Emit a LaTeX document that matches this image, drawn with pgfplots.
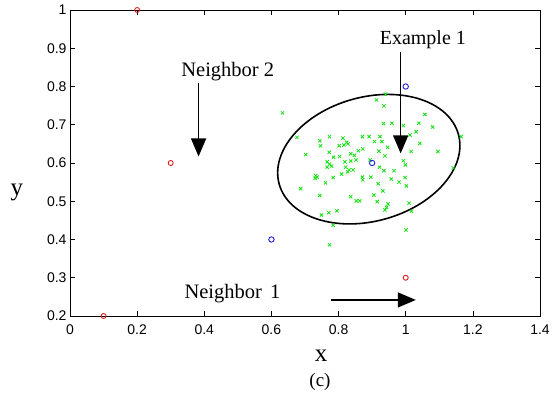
\documentclass[border=0pt]{standalone}
\usepackage{pgfplots}
\pgfplotsset{compat=1.18}
\usepackage{fontspec}
\setmainfont{Liberation Serif}
\setsansfont{Liberation Sans}
\usetikzlibrary{arrows.meta}
\definecolor{mgreen}{RGB}{20,225,20}
\definecolor{mred}{RGB}{220,30,30}
\definecolor{mblue}{RGB}{30,30,220}
\begin{document}
\begin{tikzpicture}
\begin{axis}[
  at={(0pt,0pt)}, anchor=south west,
  scale only axis, width=470pt, height=306pt,
  xmin=0, xmax=1.4, ymin=0.2, ymax=1,
  xtick={0,0.2,...,1.4}, ytick={0.2,0.3,...,1.0},
  xticklabels={0,0.2,0.4,0.6,0.8,1,1.2,1.4},
  yticklabels={0.2,0.3,0.4,0.5,0.6,0.7,0.8,0.9,1},
  tick align=inside, tick pos=both, major tick length=5pt,
  tick style={black, line width=0.6pt},
  axis line style={line width=0.9pt},
  tick label style={font=\fontsize{14}{16}\sffamily},
  xticklabel style={yshift=-5pt},
  /pgf/number format/assume math mode=true,
  clip=false,
]
\addplot[only marks, mark=x, mark size=2.3pt, mgreen, line width=0.8pt] coordinates {
(0.633,0.731) (0.940,0.780) (0.913,0.765) (0.935,0.749) (1.057,0.727)
(0.934,0.703) (0.959,0.704) (0.993,0.698) (1.039,0.704) (1.080,0.694)
(1.031,0.682) (1.013,0.673) (1.165,0.669) (0.676,0.667) (0.773,0.669)
(0.744,0.658) (0.813,0.665) (0.871,0.669) (0.891,0.669) (0.923,0.669)
(0.824,0.654) (0.828,0.650) (0.816,0.647) (0.746,0.645) (0.802,0.645)
(0.907,0.656) (0.929,0.656) (0.946,0.641) (1.042,0.651) (0.872,0.637)
(0.859,0.632) (0.920,0.631) (1.016,0.630) (1.096,0.630) (0.702,0.622)
(0.772,0.628) (0.785,0.615) (0.803,0.617) (0.836,0.624) (0.847,0.620)
(0.938,0.619) (0.766,0.603) (0.773,0.597) (0.779,0.592) (0.766,0.589)
(0.819,0.603) (0.836,0.605) (0.852,0.608) (0.821,0.589) (0.831,0.582)
(0.843,0.582) (0.827,0.577) (0.894,0.608) (0.922,0.589) (0.935,0.580)
(0.965,0.580) (0.993,0.606) (0.999,0.595) (0.732,0.567) (0.736,0.563)
(0.730,0.560) (0.784,0.562) (0.809,0.571) (0.871,0.563) (0.872,0.556)
(0.896,0.563) (0.957,0.558) (0.980,0.550) (0.998,0.562) (1.002,0.540)
(1.142,0.587) (0.761,0.548) (0.687,0.533) (0.918,0.546) (0.932,0.527)
(0.744,0.515) (0.836,0.512) (0.853,0.501) (0.863,0.501) (0.905,0.516)
(0.915,0.499) (0.947,0.493) (0.943,0.484) (0.938,0.477) (1.010,0.495)
(1.017,0.474) (0.795,0.475) (0.771,0.470) (0.749,0.464) (0.784,0.437)
(1.001,0.425) (0.773,0.386)
};
\addplot[only marks, mark=o, mark size=2.5pt, mred, line width=0.9pt] coordinates {
(0.2,1.0) (0.3,0.6) (0.1,0.2) (1.0,0.3)
};
\addplot[only marks, mark=o, mark size=2.7pt, mblue, line width=0.9pt] coordinates {
(1.0,0.8) (0.9,0.6) (0.6,0.4)
};
\draw[line width=1.6pt, rotate around={15.6:(axis cs:0.89,0.61)}]
  (axis cs:0.89,0.61) ellipse [x radius=93pt, y radius=62pt];
\draw[line width=1.4pt, -{Triangle[width=15pt,length=18pt]}]
  (axis cs:0.985,0.89) -- (axis cs:0.985,0.625);
\draw[line width=1.4pt, -{Triangle[width=15pt,length=18pt]}]
  (axis cs:0.383,0.809) -- (axis cs:0.383,0.617);
\draw[line width=1.4pt, -{Triangle[width=15pt,length=18pt]}]
  (axis cs:0.776,0.242) -- (axis cs:1.03,0.242);
\node[font=\fontsize{20}{22}\selectfont] at (axis cs:1.051,0.922) {Example 1};
\node[font=\fontsize{20.5}{22}\selectfont] at (axis cs:0.470,0.838) {Neighbor 2};
\node[font=\fontsize{20.5}{22}\selectfont] at (axis cs:0.484,0.2575) {Neighbor\hspace{3pt} 1};
\end{axis}
\node[font=\fontsize{25}{28}\selectfont] at (251pt,-40pt) {x};
\node[font=\fontsize{25}{28}\selectfont] at (-53pt,124pt) {y};
\node[font=\fontsize{19}{21}\selectfont] at (250pt,-66pt) {(c)};
\pgfresetboundingbox
\path (-70pt,-87pt) rectangle (483pt,316pt);
\end{tikzpicture}
\end{document}
